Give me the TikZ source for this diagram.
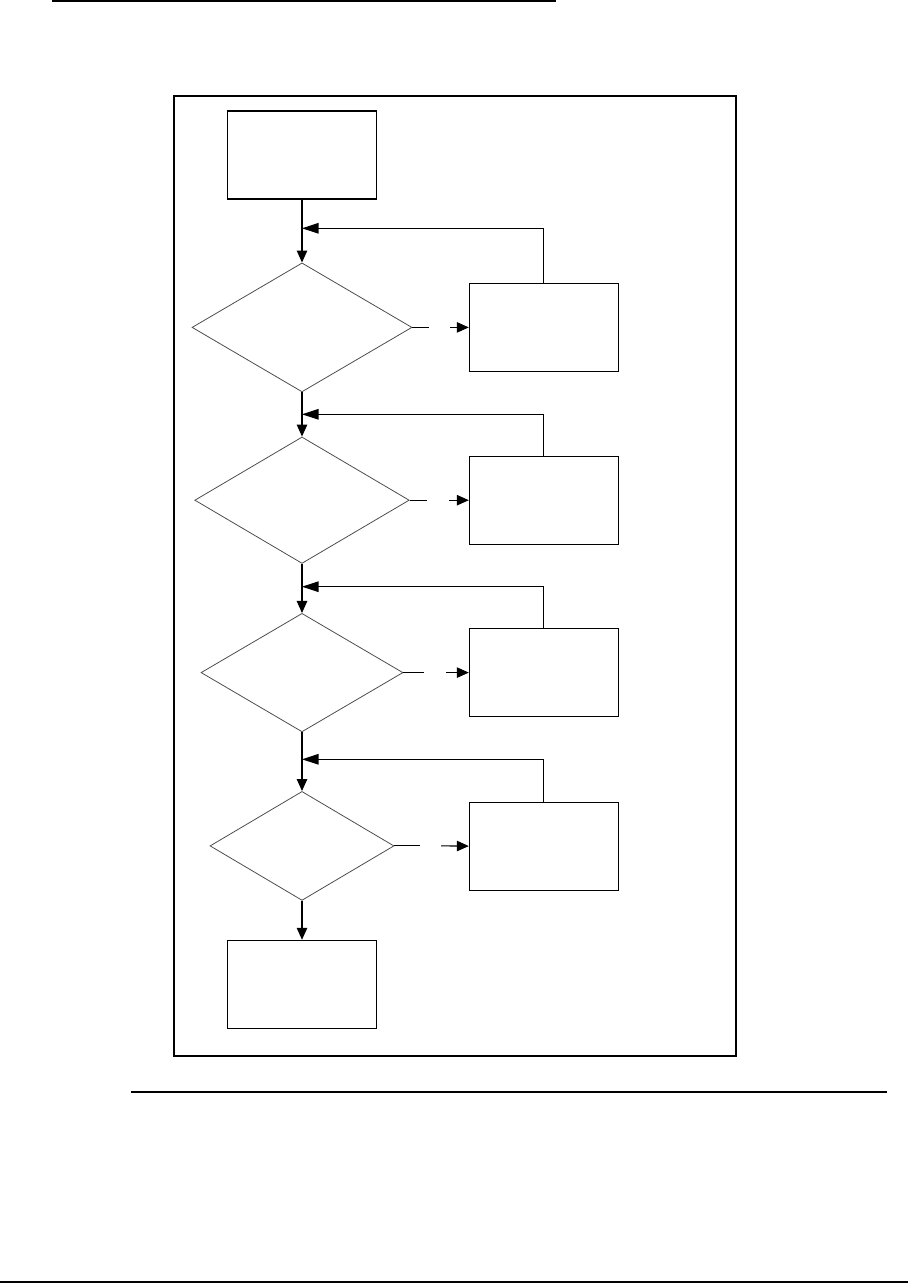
\documentclass[tikz,border=0pt]{standalone}
\usepackage{tikz}
\usetikzlibrary{positioning,shapes.geometric,arrows.meta}

\begin{document}
\begin{tikzpicture}[x=0.02cm, y=-0.02cm, line width=0.6pt,
	blocco/.style={draw, rectangle, minimum width=2.98cm, minimum height=1.76cm, inner sep=0pt},
	scelta/.style={draw=black!70, diamond, line width=0.45pt, inner sep=0pt},
	freccia/.style={-{Triangle[length=0.24cm, width=0.21cm]}},
	ritorno/.style={-{Triangle[length=0.33cm, width=0.21cm]}}]
			
			% Area della pagina
			\useasboundingbox (0,0) rectangle (908,1283);
			
			% Righe di intestazione e piè di pagina
			\draw[line width=1pt] (52,0.9) -- (556,0.9);
			\draw[line width=0.6pt] (131,1092) -- (887,1092);
			\draw[line width=0.9pt] (0,1282.2) -- (908,1282.2);
			
			% Cornice esterna
			\draw[line width=1.2pt] (174,96.3) rectangle (736.2,1056.3);
			
			% Blocco iniziale
			\node[blocco] (inizio) at (302,155) {};
			
			% Prima scelta: 263 - 392
			\node[scelta, minimum width=4.4cm, minimum height=2.58cm] (s1) at (302,327.4) {};
			\node[blocco] (b1) at (543.8,327.4) {};
			\coordinate (g1a) at (428.7,327.4);
			\coordinate (g1b) at (450,327.4);
			\coordinate (r1) at (302,228.3);
			
			% Seconda scelta: 437 - 563
			\node[scelta, minimum width=4.29cm, minimum height=2.53cm] (s2) at (302,500.2) {};
			\node[blocco] (b2) at (543.8,500.2) {};
			\coordinate (g2a) at (426.7,500.2);
			\coordinate (g2b) at (449.3,500.2);
			\coordinate (r2) at (302,414.3);
			
			% Terza scelta: 613 - 732
			\node[scelta, minimum width=4.04cm, minimum height=2.37cm] (s3) at (302,672.6) {};
			\node[blocco] (b3) at (543.8,672.6) {};
			\coordinate (g3a) at (424,672.6);
			\coordinate (g3b) at (446,672.6);
			\coordinate (r3) at (302,586.7);
			
			% Quarta scelta: 791 - 900 (la piu' piccola)
			\node[scelta, minimum width=3.68cm, minimum height=2.18cm] (s4) at (302,845.9) {};
			\node[blocco] (b4) at (543.8,846.1) {};
			\coordinate (g4a) at (420,845.9);
			\coordinate (g4b) at (441,845.9);
			\coordinate (r4) at (302,759.3);
			
			% Blocco finale
			\node[blocco] (fine) at (302,984.3) {};
			
			% Linea principale
			\draw[freccia] (inizio.south) -- (s1.north);
			\draw[freccia] (s1.south) -- (s2.north);
			\draw[freccia] (s2.south) -- (s3.north);
			\draw[freccia] (s3.south) -- (s4.north);
			\draw[freccia] (s4.south) -- (fine.north);
			
			% Uscite laterali (con interruzione)
			\draw (s1.east) -- (g1a);
			\draw[freccia] (g1b) -- (b1.west);
			\draw (s2.east) -- (g2a);
			\draw[freccia] (g2b) -- (b2.west);
			\draw (s3.east) -- (g3a);
			\draw[freccia] (g3b) -- (b3.west);
			\draw (s4.east) -- (g4a);
			\draw[freccia] (g4b) -- (b4.west);
			
			% Ritorni sulla linea principale
			\draw[ritorno] (b1.north) |- (r1);
			\draw[ritorno] (b2.north) |- (r2);
			\draw[ritorno] (b3.north) |- (r3);
			\draw[ritorno] (b4.north) |- (r4);
			
		\end{tikzpicture}
\end{document}
